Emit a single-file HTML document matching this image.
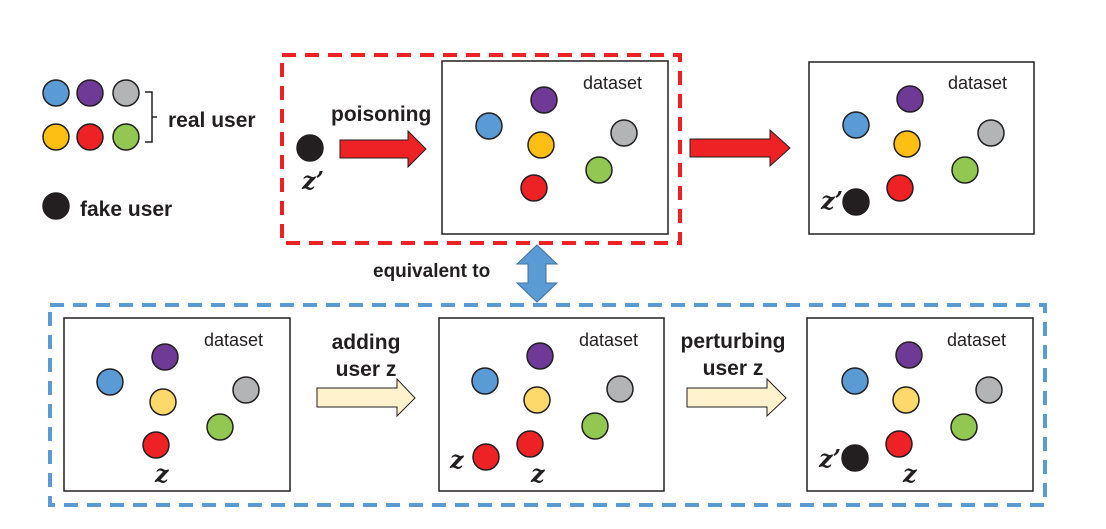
<!DOCTYPE html>
<html><head><meta charset="utf-8"><style>
html,body{margin:0;padding:0;background:#fff;}
svg{display:block;}
text{font-family:"Liberation Sans",Arial,sans-serif;}
.b{font-weight:bold;font-size:21px;fill:#231f20;}
.ds{font-size:18px;fill:#231f20;}
.z{font-family:"DejaVu Serif","Liberation Serif",serif;font-weight:bold;font-style:italic;font-size:24px;fill:#231f20;}
circle{stroke:#231f20;stroke-width:1.5;}
</style></head><body>
<svg width="1106" height="529" viewBox="0 0 1106 529" xmlns="http://www.w3.org/2000/svg">
<!-- legend -->
<circle cx="56" cy="93" r="13" fill="#5b9bd5"/>
<circle cx="90" cy="93" r="13" fill="#6f3996"/>
<circle cx="126" cy="93" r="13" fill="#b3b4b6"/>
<circle cx="56" cy="137" r="13" fill="#fdbf13"/>
<circle cx="90" cy="137" r="13" fill="#ee2125"/>
<circle cx="126" cy="137" r="13" fill="#92c852"/>
<path d="M145 92 H152 V117 L157 117 M152 117 V142 H145" fill="none" stroke="#231f20" stroke-width="1.5"/>
<text x="168" y="127" class="b">real user</text>
<circle cx="56" cy="206" r="13" fill="#231f20"/>
<text x="80" y="216" class="b">fake user</text>

<!-- red dashed -->
<rect x="282" y="55" width="398" height="188" fill="none" stroke="#ee2125" stroke-width="4" stroke-dasharray="14,9"/>
<rect x="442" y="61" width="226" height="173" fill="#fff" stroke="#231f20" stroke-width="1.5"/>
<text x="583" y="89" class="ds">dataset</text>
<circle cx="489" cy="126" r="13" fill="#5b9bd5"/>
<circle cx="544" cy="100" r="13" fill="#6f3996"/>
<circle cx="541" cy="145" r="13" fill="#fdbf13"/>
<circle cx="624" cy="133" r="13" fill="#b3b4b6"/>
<circle cx="599" cy="170" r="13" fill="#92c852"/>
<circle cx="534" cy="188" r="13" fill="#ee2125"/>
<circle cx="310" cy="148" r="13" fill="#231f20"/>
<text x="302" y="189" class="z">z’</text>
<text x="331" y="121" class="b">poisoning</text>
<path d="M340 140 H408 V131 L426 149 L408 167 V158 H340 Z" fill="#ee2125" stroke="#231f20" stroke-width="1"/>

<path d="M690 139 H770 V130 L790 148 L770 166 V157 H690 Z" fill="#ee2125" stroke="#231f20" stroke-width="1"/>
<rect x="809" y="62" width="225" height="172" fill="#fff" stroke="#231f20" stroke-width="1.5"/>
<text x="948" y="89" class="ds">dataset</text>
<circle cx="856" cy="125" r="13" fill="#5b9bd5"/>
<circle cx="910" cy="99" r="13" fill="#6f3996"/>
<circle cx="907" cy="144" r="13" fill="#fdbf13"/>
<circle cx="991" cy="133" r="13" fill="#b3b4b6"/>
<circle cx="965" cy="170" r="13" fill="#92c852"/>
<circle cx="900" cy="188" r="13" fill="#ee2125"/>
<circle cx="856" cy="202" r="13" fill="#231f20"/>
<text x="821" y="209" class="z">z’</text>

<!-- equivalent -->
<text x="373" y="277" class="b" style="font-size:19px">equivalent to</text>
<path d="M537 245 L557 264 H546 V283 H557 L537 302 L517 283 H528 V264 H517 Z" fill="#5b9bd5" stroke="#41719c" stroke-width="1"/>

<!-- blue dashed -->
<rect x="50" y="305" width="995" height="200" fill="none" stroke="#5b9bd5" stroke-width="4" stroke-dasharray="14,9"/>

<rect x="64" y="318" width="226" height="173" fill="#fff" stroke="#231f20" stroke-width="1.5"/>
<text x="204" y="346" class="ds">dataset</text>
<circle cx="110" cy="382" r="13" fill="#5b9bd5"/>
<circle cx="165" cy="357" r="13" fill="#6f3996"/>
<circle cx="163" cy="402" r="13" fill="#fdd96b"/>
<circle cx="246" cy="390" r="13" fill="#b3b4b6"/>
<circle cx="220" cy="427" r="13" fill="#92c852"/>
<circle cx="156" cy="445" r="13" fill="#ee2125"/>
<text x="155" y="482" class="z">z</text>

<text x="366" y="349" class="b" text-anchor="middle">adding</text>
<text x="366" y="376" class="b" text-anchor="middle">user z</text>
<path d="M317 388 H397 V379 L415 398 L397 416 V407 H317 Z" fill="#fff2cc" stroke="#231f20" stroke-width="1"/>

<rect x="439" y="318" width="225" height="173" fill="#fff" stroke="#231f20" stroke-width="1.5"/>
<text x="579" y="346" class="ds">dataset</text>
<circle cx="485" cy="381" r="13" fill="#5b9bd5"/>
<circle cx="540" cy="356" r="13" fill="#6f3996"/>
<circle cx="537" cy="400" r="13" fill="#fdd96b"/>
<circle cx="620" cy="389" r="13" fill="#b3b4b6"/>
<circle cx="595" cy="426" r="13" fill="#92c852"/>
<circle cx="530" cy="444" r="13" fill="#ee2125"/>
<circle cx="486" cy="457" r="13" fill="#ee2125"/>
<text x="450" y="468" class="z">z</text>
<text x="531" y="482" class="z">z</text>

<text x="733" y="348" class="b" text-anchor="middle">perturbing</text>
<text x="733" y="375" class="b" text-anchor="middle">user z</text>
<path d="M687 388 H767 V379 L786 398 L767 416 V407 H687 Z" fill="#fff2cc" stroke="#231f20" stroke-width="1"/>

<rect x="807" y="318" width="226" height="173" fill="#fff" stroke="#231f20" stroke-width="1.5"/>
<text x="947" y="346" class="ds">dataset</text>
<circle cx="855" cy="381" r="13" fill="#5b9bd5"/>
<circle cx="909" cy="355" r="13" fill="#6f3996"/>
<circle cx="906" cy="400" r="13" fill="#fdd96b"/>
<circle cx="989" cy="390" r="13" fill="#b3b4b6"/>
<circle cx="964" cy="427" r="13" fill="#92c852"/>
<circle cx="899" cy="444" r="13" fill="#ee2125"/>
<circle cx="855" cy="458" r="13" fill="#231f20"/>
<text x="819" y="467" class="z">z’</text>
<text x="903" y="482" class="z">z</text>
</svg>
</body></html>
